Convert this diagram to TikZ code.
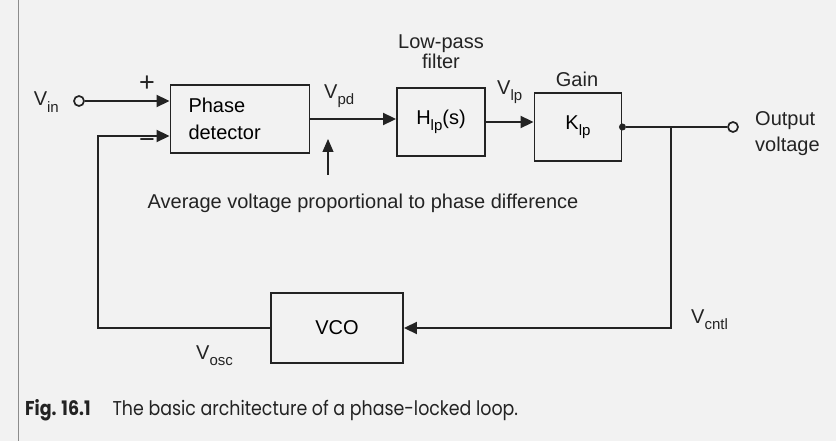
\documentclass[tikz,border=0pt]{standalone}
\usepackage{fontspec}
\setmainfont{Liberation Sans}
\newfontfamily\capfont[FakeStretch=0.87]{Poppins}
\usetikzlibrary{arrows.meta}
\definecolor{cpaper}{HTML}{F2F2F2}
\definecolor{cink}{HTML}{232323}
\definecolor{cedge}{HTML}{8C8C8C}
\tikzset{
  blk/.style={draw=cink,line width=1.9pt,minimum height=68pt,inner sep=0pt,align=center},
  sig/.style={draw=cink,line width=1.9pt,-{Triangle[length=13pt,width=12pt]}},
  wire/.style={draw=cink,line width=1.9pt},
  probe/.style={draw=cink,line width=1.1pt,-{Triangle[length=13pt,width=11pt]}},
  term/.style={circle,draw=cink,line width=1.7pt,fill=cpaper,minimum size=10pt,inner sep=0pt},
  lbl/.style={text=cink,inner sep=0pt}
}
\newcommand{\lo}[1]{\raisebox{-0.6ex}{\fontsize{15}{15}\selectfont #1}}
\newcommand{\volt}[1]{V\lo{#1}}

\begin{document}
\begin{tikzpicture}[x=1pt,y=-1pt,font=\fontsize{20}{24}\selectfont]
\useasboundingbox (0,0) rectangle (836,441);
\fill[cpaper] (0,0) rectangle (836,441);
\draw[cedge,line width=1pt] (18,0) -- (18,441);
% blocks
\node[blk,minimum width=139pt,text width=103pt,inner xsep=18pt,align=left,
  font=\fontsize{20}{27}\selectfont] (pd) at (240,119) {Phase\\detector};
\node[blk,minimum width=88pt] (lpf) at (441,122) {H\lo{lp}(s)};
\node[blk,minimum width=87pt] (gain) at (578,127) {K\lo{lp}};
\node[blk,minimum width=132pt,minimum height=70pt] (vco) at (337,328) {VCO};
% terminals and taps
\node[term] (vin) at (79,101) {};
\node[term] (vout) at (733,127) {};
\node[circle,fill=cink,minimum size=7pt,inner sep=0pt] (tap) at (gain.east) {};
\coordinate (fbl) at (98,328);
\coordinate (brk) at (671,127);
\coordinate (probe) at (328,139);
\coordinate (probefoot) at (328,175);
% labels
\node[lbl,anchor=east] at (59,102) {\volt{in}};
\node[lbl,font=\fontsize{27}{27}\selectfont] at (147,84) {+};
\node[lbl,font=\fontsize{27}{27}\selectfont] at (147,144) {−};
\node[lbl,anchor=west] at (324,96) {\volt{pd}};
\node[lbl,align=center,font=\fontsize{20}{17}\selectfont] at (441,52) {Low-pass\\filter};
\node[lbl,anchor=west] at (497,92) {\volt{lp}};
\node[lbl] at (577,79) {Gain};
\node[lbl,anchor=west,align=left,font=\fontsize{20}{26}\selectfont] at (755,134) {Output\\voltage};
\node[lbl,anchor=west] at (691,320) {\volt{cntl}};
\node[lbl,anchor=west] at (196,356) {\volt{osc}};
\node[lbl] (avg) at (363,203) {Average voltage proportional to phase difference};
% signal path
\draw[sig] (vin.east) -- (vin.east -| pd.west);
\draw[sig] (pd.east) -- (pd.east -| lpf.west);
\draw[sig] (lpf.east) -- (lpf.east -| gain.west);
\draw[wire] (tap) -- (vout.west);
\draw[sig] (brk) |- (vco.east);
\draw[sig] (vco.west) -- (fbl) |- ([yshift=-17pt]pd.west);
\draw[probe] (probefoot) -- (probe);
% caption
\node[lbl,anchor=west,font=\capfont\fontsize{20}{23}\selectfont] (cap) at (25,410)
  {\textbf{Fig. 16.1}\hspace{22pt}The basic architecture of a phase-locked loop.};
\end{tikzpicture}
\end{document}
